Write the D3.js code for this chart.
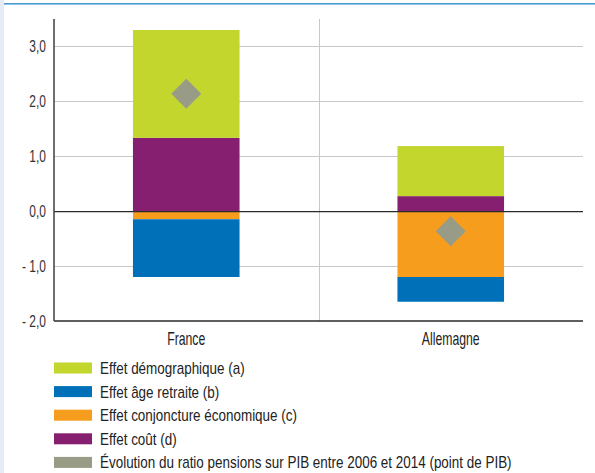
<!DOCTYPE html>
<html>
<head>
<meta charset="utf-8">
<script src="https://cdn.jsdelivr.net/npm/d3@7"></script>
<style>
  body { margin: 0; background: #fff; }
  svg { display: block; font-family: "Liberation Sans", Arial, sans-serif; }
</style>
</head>
<body>
<div id="chart"></div>
<script>
// data
const countries = ["France", "Allemagne"];
const effets = ["Effet démographique (a)", "Effet âge retraite (b)", "Effet conjoncture économique (c)", "Effet coût (d)"];
const demographique = [1.96, 0.91];
const ageRetraite = [-1.05, -0.45];
const conjoncture = [-0.15, -1.20];
const cout = [1.33, 0.27];
const evolution = [2.13, -0.37];
const legendLabel = "Évolution du ratio pensions sur PIB entre 2006 et 2014 (point de PIB)";
const yTicks = [-2, -1, 0, 1, 2, 3];

const colors = {
    demo: "#c2d62e",
    age: "#0070b9",
    conj: "#f79d1e",
    cout: "#861f6f",
    evol: "#989b85"
};

const width = 595, height = 473;
const margin = {top: 19, right: 12, bottom: 152, left: 54};

const svg = d3.select("#chart").append("svg")
    .attr("width", width)
    .attr("height", height);

// page frame bits
svg.append("rect").attr("x", 0).attr("y", 0).attr("width", 4).attr("height", height).attr("fill", "#e6ecf5");
svg.append("rect").attr("x", 4).attr("y", 3).attr("width", width - 4).attr("height", 1.6).attr("fill", "#4a9ad4");

let x = d3.scaleBand()
    .domain(countries)
    .range([margin.left, width - margin.right])
    .padding(0);

let y = d3.scaleLinear()
    .domain([-2, 3.49])
    .range([height - margin.bottom, margin.top]);

// gridlines
svg.append("g")
    .selectAll("line")
    .data(yTicks.filter(d => d !== 0 && d !== -2))
    .enter()
    .append("line")
    .attr("x1", margin.left)
    .attr("x2", width - margin.right)
    .attr("y1", d => Math.round(y(d)) + 0.5)
    .attr("y2", d => Math.round(y(d)) + 0.5)
    .attr("stroke", "#c8c8c8")
    .attr("stroke-width", 1);

// vertical separator
svg.append("line")
    .attr("x1", Math.round(x("Allemagne")) + 0.5)
    .attr("x2", Math.round(x("Allemagne")) + 0.5)
    .attr("y1", margin.top)
    .attr("y2", y(-2))
    .attr("stroke", "#c8c8c8")
    .attr("stroke-width", 1);

// stack the segments: positives upward, negatives downward
let segs = [];
countries.forEach((c, i) => {
    let pos = 0, neg = 0;
    [["conj", conjoncture[i]], ["age", ageRetraite[i]], ["cout", cout[i]], ["demo", demographique[i]]].forEach(([k, v]) => {
        if (v >= 0) {
            segs.push({country: c, key: k, y0: pos, y1: pos + v});
            pos += v;
        } else {
            segs.push({country: c, key: k, y0: neg + v, y1: neg});
            neg += v;
        }
    });
});

const barW = x.bandwidth() * 0.403;

svg.append("g")
    .selectAll("rect")
    .data(segs)
    .enter()
    .append("rect")
    .attr("x", d => x(d.country) + (x.bandwidth() - barW) / 2)
    .attr("width", barW)
    .attr("y", d => y(d.y1))
    .attr("height", d => y(d.y0) - y(d.y1))
    .attr("fill", d => colors[d.key]);

// axes lines
svg.append("line")
    .attr("x1", margin.left).attr("x2", width - margin.right)
    .attr("y1", y(0) + 0.6).attr("y2", y(0) + 0.6)
    .attr("stroke", "#2a2a2a").attr("stroke-width", 1.4);

svg.append("line")
    .attr("x1", margin.left).attr("x2", width - margin.right)
    .attr("y1", y(-2)).attr("y2", y(-2))
    .attr("stroke", "#2a2a2a").attr("stroke-width", 1.4);

svg.append("line")
    .attr("x1", margin.left).attr("x2", margin.left)
    .attr("y1", margin.top).attr("y2", y(-2))
    .attr("stroke", "#4a4a4a").attr("stroke-width", 1.6);

// diamonds
const diamond = d3.symbol().type(d3.symbolSquare).size(450);
svg.append("g")
    .selectAll("path")
    .data(evolution)
    .enter()
    .append("path")
    .attr("d", diamond)
    .attr("transform", (d, i) => `translate(${x(countries[i]) + x.bandwidth() / 2},${y(d)}) rotate(45)`)
    .attr("fill", colors.evol);

// y tick labels (original face is condensed, so squeeze horizontally)
const fmt = d => (d < 0 ? "- " : "") + d3.format(".1f")(Math.abs(d)).replace(".", ",");
svg.append("g")
    .selectAll("text")
    .data(yTicks)
    .enter()
    .append("text")
    .attr("transform", d => `translate(${margin.left - 8},${y(d) + 5.8}) scale(0.73,1)`)
    .attr("text-anchor", "end")
    .attr("font-size", 16.4)
    .attr("fill", "#333")
    .text(fmt);

// category labels
svg.append("g")
    .selectAll("text")
    .data(countries)
    .enter()
    .append("text")
    .attr("transform", d => `translate(${x(d) + x.bandwidth() / 2},${y(-2) + 24}) scale(0.7,1)`)
    .attr("text-anchor", "middle")
    .attr("font-size", 17.5)
    .attr("fill", "#222")
    .text(d => d);

// legend
const legendItems = effets.map((e, i) => ({name: e, color: colors[["demo", "age", "conj", "cout"][i]]}));
legendItems.push({name: legendLabel, color: colors.evol});

let legend = svg.append("g")
    .attr("transform", "translate(54,362.5)")
    .selectAll("g")
    .data(legendItems)
    .enter()
    .append("g")
    .attr("transform", (d, i) => `translate(0,${i * 23.6})`);

legend.append("rect")
    .attr("width", 38)
    .attr("height", 11)
    .attr("fill", d => d.color);

legend.append("text")
    .attr("transform", "translate(46,11.5) scale(0.82,1)")
    .attr("font-size", 16.4)
    .attr("fill", "#222")
    .text(d => d.name);
</script>
</body>
</html>
